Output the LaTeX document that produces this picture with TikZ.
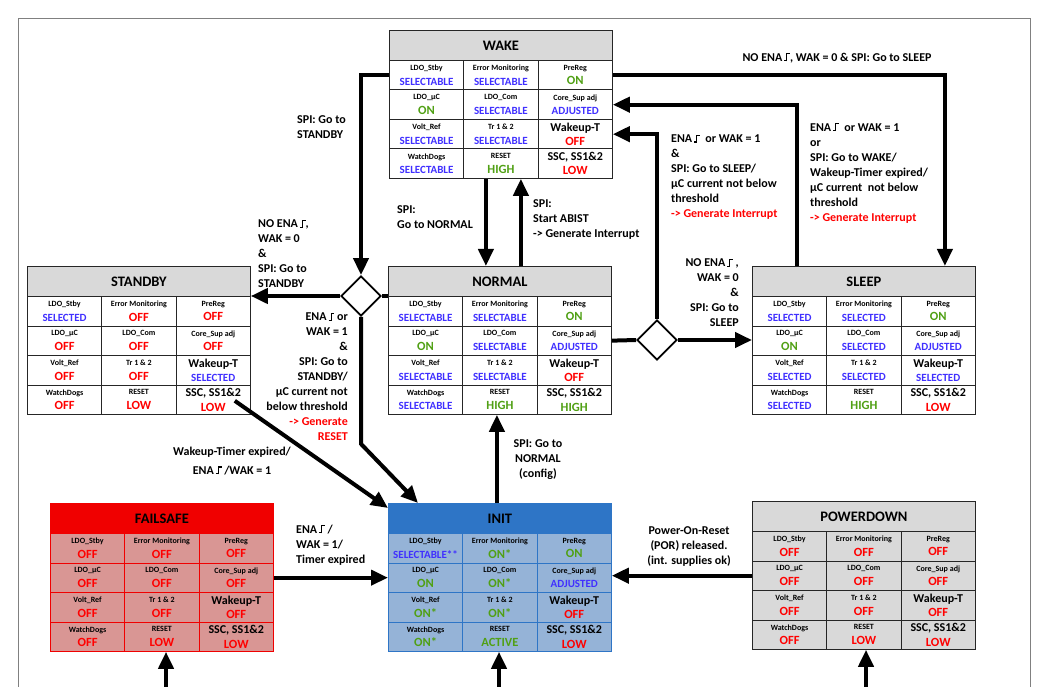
\documentclass[tikz,border=0pt]{standalone}
\usepackage{fontspec}
\setmainfont{Carlito}
\usetikzlibrary{positioning, calc, shapes.geometric, arrows.meta}

\definecolor{hdgray}{RGB}{217,217,217}
\definecolor{selblue}{RGB}{64,48,255}
\definecolor{ongreen}{RGB}{80,160,20}
\definecolor{offred}{RGB}{255,0,0}
\definecolor{fsred}{RGB}{240,0,0}
\definecolor{fsbody}{RGB}{217,150,148}
\definecolor{inhead}{RGB}{46,117,198}
\definecolor{inbody}{RGB}{149,179,215}

% value formats
\newcommand\valsel{\fontsize{11}{12}\selectfont\color{selblue}}
\newcommand\valon{\color{ongreen}}
\newcommand\valoff{\color{offred}}
% rising edge sign
\newcommand\redge{\,\rule{2pt}{1.1pt}\rule{1.1pt}{8pt}\rule[6.9pt]{2.6pt}{1.1pt}}

\newcommand\cellname[1]{\ifcase#1 LDO\_Stby\or Error Monitoring\or PreReg\or
  LDO\_µC\or LDO\_Com\or Core\_Sup adj\or Volt\_Ref\or Tr 1 \& 2\or
  {\fontsize{12}{14}\selectfont Wakeup-T}\or WatchDogs\or RESET\or
  {\fontsize{12}{14}\selectfont SSC, SS1\&2}\fi}

% name, top left, title, look, values
\newcommand\statebox[5]{%
  \node[head, #4head] (#1) at (#2) {#3};
  \foreach \val [count=\i from 0] in {#5} {
    \pgfmathsetmacro\cx{mod(\i,3)*74.33}
    \pgfmathsetmacro\cy{30+int(\i/3)*29.5}
    \node[cell, #4cell] (#1-\i) at ($(#1.north west)+(\cx,\cy)$)
      {{\fontsize{8}{9}\selectfont\cellname{\i}}\\\val};
  }%
}

\begin{document}
\begin{tikzpicture}[
    x=1pt, y=-1pt,
    >={Triangle[length=17pt,width=15pt]},
    head/.style={anchor=north west, draw, line width=0.8pt, minimum width=223pt,
      minimum height=30pt, inner sep=0pt, font=\fontsize{14.5}{16}\selectfont\bfseries},
    cell/.style={anchor=north west, draw, line width=0.8pt, minimum width=74.33pt,
      minimum height=29.5pt, inner sep=0pt, align=center,
      font=\fontsize{12.5}{14.5}\selectfont\bfseries},
    stdhead/.style={fill=hdgray, draw=black!85},
    stdcell/.style={fill=white, draw=black!85},
    failhead/.style={fill=fsred, draw=fsred},
    failcell/.style={fill=fsbody, draw=fsred},
    inithead/.style={fill=inhead, draw=inhead},
    initcell/.style={fill=inbody, draw=inhead},
    pdhead/.style={fill=hdgray, draw=black!85},
    pdcell/.style={fill=hdgray, draw=black!85},
    decide/.style={diamond, draw, line width=1.8pt, fill=white, minimum width=40pt,
      minimum height=40pt, inner sep=0pt},
    flow/.style={line width=4pt, ->},
    link/.style={line width=4pt},
    txt/.style={font=\fontsize{12}{15}\selectfont\bfseries, inner sep=0pt}
  ]
  \useasboundingbox (0,0) rectangle (1063,687);
  \draw[black!50, line width=0.7pt] (18,687) -- (18,18) -- (1030,18) -- (1030,687);

  % States
  \statebox{wake}{389,30}{WAKE}{std}{\valsel SELECTABLE, \valsel SELECTABLE, \valon ON,
    \valon ON, \valsel SELECTABLE, \valsel ADJUSTED,
    \valsel SELECTABLE, \valsel SELECTABLE, \valoff OFF,
    \valsel SELECTABLE, \valon HIGH, \valoff LOW}
  \statebox{standby}{27,266}{STANDBY}{std}{\valsel SELECTED, \valoff OFF, \valoff OFF,
    \valoff OFF, \valoff OFF, \valoff OFF,
    \valoff OFF, \valoff OFF, \valsel SELECTED,
    \valoff OFF, \valoff LOW, \valoff LOW}
  \statebox{normal}{388,266}{NORMAL}{std}{\valsel SELECTABLE, \valsel SELECTABLE, \valon ON,
    \valon ON, \valsel SELECTABLE, \valsel ADJUSTED,
    \valsel SELECTABLE, \valsel SELECTABLE, \valoff OFF,
    \valsel SELECTABLE, \valon HIGH, \valon HIGH}
  \statebox{sleep}{752,266}{SLEEP}{std}{\valsel SELECTED, \valsel SELECTED, \valon ON,
    \valon ON, \valsel SELECTED, \valsel ADJUSTED,
    \valsel SELECTED, \valsel SELECTED, \valsel SELECTED,
    \valsel SELECTED, \valon HIGH, \valoff LOW}
  \statebox{failsafe}{50,503}{FAILSAFE}{fail}{\valoff OFF, \valoff OFF, \valoff OFF,
    \valoff OFF, \valoff OFF, \valoff OFF,
    \valoff OFF, \valoff OFF, \valoff OFF,
    \valoff OFF, \valoff LOW, \valoff LOW}
  \statebox{init}{388,503}{INIT}{init}{\valsel SELECTABLE**, \valon ON*, \valon ON,
    \valon ON, \valon ON*, \valsel ADJUSTED,
    \valon ON*, \valon ON*, \valoff OFF,
    \valon ON*, \valon ACTIVE, \valoff LOW}
  \statebox{powerdown}{752,501}{POWERDOWN}{pd}{\valoff OFF, \valoff OFF, \valoff OFF,
    \valoff OFF, \valoff OFF, \valoff OFF,
    \valoff OFF, \valoff OFF, \valoff OFF,
    \valoff OFF, \valoff LOW, \valoff LOW}

  % Decisions
  \node[decide] (stbdec) at (361,296) {};
  \node[decide] (slpdec) at (657,340) {};

  % Transitions
  \draw[flow] (wake-0.west) -| (stbdec.north);
  \draw[flow] (stbdec.west) -- (stbdec.west -| standby.east);
  \draw[link] (normal.west |- stbdec) -- (stbdec.east);
  \draw[flow] (stbdec.south) -- ++(0,127) -- ([xshift=30pt]init.north west);
  \draw[flow] ([xshift=-16pt,yshift=14pt]standby-11.south east) -- ([yshift=-5pt]init.north west);
  \draw[flow] ([xshift=-15pt]wake-10.south) -- ([xshift=-15pt]wake-10.south |- normal.north);
  \draw[flow] ([xshift=21pt]normal.north) -- ([xshift=21pt]normal.north |- wake-10.south);
  \draw[link] (normal-5.east) -- (slpdec.west);
  \draw[flow] (slpdec.east) -- (slpdec -| sleep.west);
  \draw[flow] (slpdec.north) |- (wake-8.east);
  \draw[flow] ([xshift=-67pt]sleep.north) |- (wake-5.east);
  \draw[flow] (wake-2.east) -| ([xshift=81pt]sleep.north);
  \draw[flow] ([xshift=-3pt]init.north) -- ([xshift=-3pt]init.north |- normal-10.south);
  \draw[flow] (failsafe-5.east) -- (failsafe-5.east -| init.west);
  \draw[flow] (powerdown-3.west) -- (powerdown-3.west -| init.east);

  % Entries from below
  \coordinate (fsin) at (166,687);
  \coordinate (initin) at (499,687);
  \coordinate (pdin) at (866,687);
  \draw[flow] (fsin) -- (fsin |- failsafe-10.south);
  \draw[flow] (initin) -- (initin |- init-10.south);
  \draw[flow] (pdin) -- (pdin |- powerdown-10.south);

  % Conditions
  \node[txt, align=left, anchor=west] (gostandby) at (297,127) {SPI: Go to\\STANDBY};
  \node[txt, align=left, anchor=west] (nowakstb) at (258,254)
    {NO ENA\redge,\\WAK = 0\\\&\\SPI: Go to\\STANDBY};
  \node[txt, align=right, anchor=east] (enastb) at (348,377)
    {ENA\redge{} or\\WAK = 1\\\&\\SPI: Go to\\STANDBY/\\µC current not\\below threshold\\
     \textcolor{offred}{-> Generate}\\\textcolor{offred}{RESET}};
  \node[txt, align=left, anchor=west] (gonormal) at (397,217) {SPI:\\Go to NORMAL};
  \node[txt, align=left, anchor=west] (abist) at (533,220)
    {SPI:\\Start ABIST\\-> Generate Interrupt};
  \node[txt] (gosleep) at (837,58) {NO ENA\redge, WAK = 0 \& SPI: Go to SLEEP};
  \node[txt, align=left, anchor=west] (enasleep) at (671,177)
    {ENA\redge{}\ \ or WAK = 1\\\&\\SPI: Go to SLEEP/\\µC current not below\\threshold\\
     \textcolor{offred}{-> Generate Interrupt}};
  \node[txt, align=left, anchor=west] (enawake) at (810,173)
    {ENA\redge{}\ \ or WAK = 1\\or\\SPI: Go to WAKE/\\Wakeup-Timer expired/\\
     µC current\ \ not below\\threshold\\\textcolor{offred}{-> Generate Interrupt}};
  \node[txt, align=right, anchor=east] (nowaksleep) at (739,293)
    {NO ENA\redge{} ,\\WAK = 0\\\&\\SPI: Go to\\SLEEP};
  \node[txt, align=center] (config) at (538,460) {SPI: Go to\\NORMAL\\(config)};
  \node[txt, align=center] (timerfs) at (232,461) {Wakeup-Timer expired/\\[4pt]ENA\redge{} /WAK = 1};
  \node[txt, align=left, anchor=west] (timerinit) at (296,545)
    {ENA\redge{} /\\WAK = 1/\\Timer expired};
  \node[txt, align=center] (por) at (689,547)
    {Power-On-Reset\\(POR) released.\\(int. supplies ok)};

\end{tikzpicture}
\end{document}
